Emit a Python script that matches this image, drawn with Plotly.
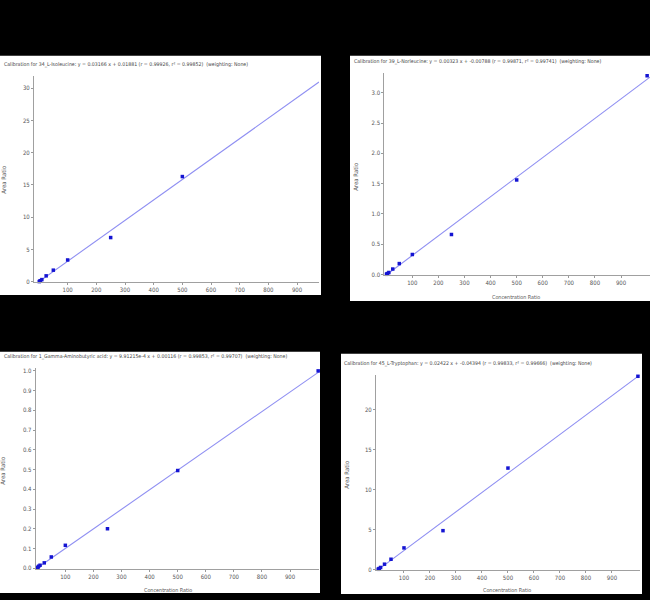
import plotly.graph_objects as go

W, H = 650, 600

# ---- data ----
conc = [1, 2.5, 5, 10, 25, 50, 100, 250, 500, 1000]
iso_y = [0.03, 0.08, 0.17, 0.34, 0.92, 1.8, 3.38, 6.85, 16.3]          # up to x=500 visible
nor_y = [0.003, 0.008, 0.016, 0.033, 0.09, 0.18, 0.33, 0.66, 1.56, 3.28]
gaba_y = [0.002, 0.005, 0.010, 0.015, 0.027, 0.057, 0.116, 0.20, 0.495, 1.0]
trp_y = [0.02, 0.06, 0.12, 0.25, 0.66, 1.28, 2.7, 4.86, 12.7, 24.2]

slopes = [0.03166, 0.00323, 9.91215e-4, 0.02422]
intercepts = [0.01881, -0.00788, 0.00116, -0.04394]

titles = [
    "Calibration for 34_L-Isoleucine: y = 0.03166 x + 0.01881 (r = 0.99926, r² = 0.99852)  (weighting: None)",
    "Calibration for 39_L-Norleucine: y = 0.00323 x + -0.00788 (r = 0.99871, r² = 0.99741)  (weighting: None)",
    "Calibration for 1_Gamma-Aminobutyric acid: y = 9.91215e-4 x + 0.00116 (r = 0.99853, r² = 0.99707)  (weighting: None)",
    "Calibration for 45_L-Tryptophan: y = 0.02422 x + -0.04394 (r = 0.99833, r² = 0.99666)  (weighting: None)",
]
x_ticks = [100, 200, 300, 400, 500, 600, 700, 800, 900]
y_ticks = [
    [0, 5, 10, 15, 20, 25, 30],
    [0, 0.5, 1.0, 1.5, 2.0, 2.5, 3.0],
    [0, 0.1, 0.2, 0.3, 0.4, 0.5, 0.6, 0.7, 0.8, 0.9, 1.0],
    [0, 5, 10, 15, 20],
]
y_fmt = ["d", ".1f", ".1f", "d"]
series_y = [iso_y, nor_y, gaba_y, trp_y]

# ---- layout geometry (pixels) ----
panels = [  # white panel rects: x0, y0, x1, y1
    (0, 55, 321, 296),
    (350, 55, 650, 302),
    (0, 353, 320, 596),
    (341, 355, 642, 597),
]
plot_px = [  # plot areas: left, top, right, bottom
    (34, 76, 319, 283),
    (384.3, 72.8, 650, 276),
    (35.7, 369, 319.3, 572),
    (376, 377, 640, 573),
]
x_ranges = [(-17.4, 976.6), (-7.4, 1011), (-5.5, 1004), (-7.7, 1008)]
y_ranges = [(-0.05, 31.8), (-0.011, 3.32), (-0.005, 1.017), (-0.09, 24.3)]
title_pos = [(2, 64), (351.7, 60.7), (2, 358.3), (341.7, 365)]
ylab_pos = [(4, 180), (356, 177), (3, 473), (347, 477)]
xlab_pos = [None, (515.7, 297.7), (168.3, 593.3), (506.7, 593.3)]


def fx(p):
    return p / W


def fy(p):
    return 1 - p / H


FONT = "DejaVu Sans Condensed, Liberation Sans"
fig = go.Figure()

shapes = []
annotations = []
layout = {}
for i in range(4):
    n = "" if i == 0 else str(i + 1)
    xa, ya = "x" + n, "y" + n
    n_pts = len(series_y[i])
    xs = conc[:n_pts]
    # regression line from fit equation
    lx = [0, x_ranges[i][1]]
    ly = [slopes[i] * v + intercepts[i] for v in lx]
    fig.add_trace(go.Scatter(x=lx, y=ly, mode="lines", xaxis=xa, yaxis=ya,
                             line=dict(color="#8f8ff2", width=1.1), showlegend=False,
                             hoverinfo="skip"))
    fig.add_trace(go.Scatter(x=xs, y=series_y[i], mode="markers", xaxis=xa, yaxis=ya,
                             marker=dict(symbol="square", size=3.5, color="#1414d2",
                                         line=dict(width=0)),
                             showlegend=False, cliponaxis=False))
    l, t, r, b = plot_px[i]
    layout["xaxis" + n] = dict(
        domain=[fx(l), fx(r)], range=list(x_ranges[i]), anchor=ya,
        tickvals=x_ticks, ticks="outside", ticklen=2, tickwidth=1, tickcolor="#999",
        showline=True, linecolor="#a0a0a0", linewidth=1, showgrid=False, zeroline=False,
        tickfont=dict(family=FONT, size=6, color="#555"), fixedrange=True,
    )
    layout["yaxis" + n] = dict(
        domain=[fy(b), fy(t)], range=list(y_ranges[i]), anchor=xa,
        tickvals=y_ticks[i], tickformat=y_fmt[i], ticks="outside", ticklen=2, tickwidth=1,
        tickcolor="#999", showline=True, linecolor="#a0a0a0", linewidth=1,
        showgrid=False, zeroline=False,
        tickfont=dict(family=FONT, size=6, color="#555"), fixedrange=True,
    )
    x0, y0, x1, y1 = panels[i]
    shapes.append(dict(type="rect", xref="paper", yref="paper", x0=fx(x0), x1=fx(x1),
                       y0=fy(y1), y1=fy(y0), fillcolor="white", line=dict(width=0),
                       layer="below"))
    tx, ty = title_pos[i]
    annotations.append(dict(text=titles[i], xref="paper", yref="paper", x=fx(tx), y=fy(ty),
                            xanchor="left", yanchor="middle", showarrow=False,
                            font=dict(family=FONT, size=5.2, color="#444")))
    yx, yy = ylab_pos[i]
    annotations.append(dict(text="Area Ratio", xref="paper", yref="paper", x=fx(yx), y=fy(yy),
                            xanchor="center", yanchor="middle", textangle=-90, showarrow=False,
                            font=dict(family=FONT, size=6, color="#555")))
    if xlab_pos[i] is not None:
        lx_, ly_ = xlab_pos[i]
        annotations.append(dict(text="Concentration Ratio", xref="paper", yref="paper",
                                x=fx(lx_), y=fy(ly_), xanchor="center", yanchor="middle",
                                showarrow=False,
                                font=dict(family=FONT, size=5.4, color="#555")))

fig.update_layout(
    width=W, height=H, margin=dict(l=0, r=0, t=0, b=0),
    paper_bgcolor="black", plot_bgcolor="white",
    shapes=shapes, annotations=annotations, **layout,
)
fig.write_html(
    "out.html",
    config={"displayModeBar": False},
    post_script="document.body.style.margin='0';document.body.style.overflow='hidden';"
                "document.body.style.background='black';",
)
